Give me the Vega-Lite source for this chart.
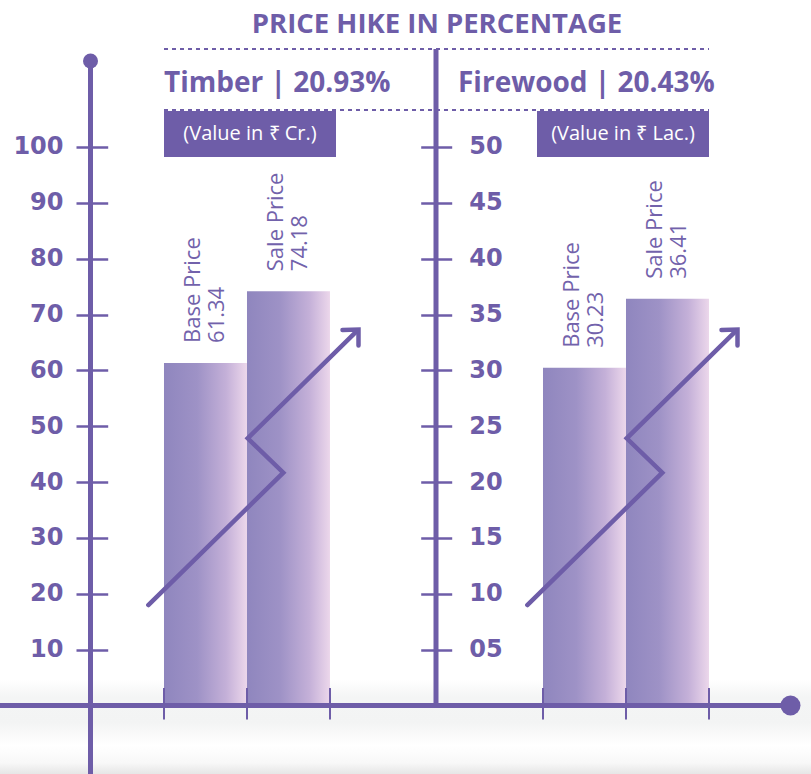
{
  "$schema": "https://vega.github.io/schema/vega-lite/v6.json",
  "width": 811,
  "height": 774,
  "autosize": {"type": "none"},
  "padding": 0,
  "background": "#ffffff",
  "config": {"view": {"stroke": null}, "axis": {"grid": false}},
  "datasets": {
    "prices": [
      {"product": "Timber", "type": "Base Price", "value": 61.34},
      {"product": "Timber", "type": "Sale Price", "value": 74.18},
      {"product": "Firewood", "type": "Base Price", "value": 30.23},
      {"product": "Firewood", "type": "Sale Price", "value": 36.41}
    ],
    "panels": [
      {"product": "Timber", "heading": "Timber | 20.93%", "unit": "(Value in ₹ Cr.)"},
      {"product": "Firewood", "heading": "Firewood | 20.43%", "unit": "(Value in ₹ Lac.)"}
    ],
    "arrows": [
      {"seg": "T-line", "order": 1, "x": 148.3, "y": 17.99},
      {"seg": "T-line", "order": 2, "x": 283.3, "y": 41.68},
      {"seg": "T-line", "order": 3, "x": 247.7, "y": 47.84},
      {"seg": "T-line", "order": 4, "x": 356, "y": 66.9},
      {"seg": "T-head", "order": 1, "x": 342.5, "y": 67.23},
      {"seg": "T-head", "order": 2, "x": 358.5, "y": 67.32},
      {"seg": "T-head", "order": 3, "x": 358.5, "y": 64.46},
      {"seg": "F-line", "order": 1, "x": 527.3, "y": 17.99},
      {"seg": "F-line", "order": 2, "x": 662.3, "y": 41.68},
      {"seg": "F-line", "order": 3, "x": 626.7, "y": 47.84},
      {"seg": "F-line", "order": 4, "x": 735, "y": 66.9},
      {"seg": "F-head", "order": 1, "x": 721.5, "y": 67.23},
      {"seg": "F-head", "order": 2, "x": 737.5, "y": 67.32},
      {"seg": "F-head", "order": 3, "x": 737.5, "y": 64.46}
    ]
  },
  "resolve": {"scale": {"x": "independent", "y": "independent", "xOffset": "independent"}},
  "layer": [
    {
      "data": {"values": [{"band": "shadow"}]},
      "mark": {
        "type": "rect",
        "fill": {
          "gradient": "linear", "x1": 0, "y1": 0, "x2": 0, "y2": 1,
          "stops": [
            {"offset": 0, "color": "#ffffff"},
            {"offset": 0.18, "color": "#f4f5f5"},
            {"offset": 0.45, "color": "#f3f4f4"},
            {"offset": 0.7, "color": "#ffffff"},
            {"offset": 0.88, "color": "#f8f8f8"},
            {"offset": 1, "color": "#e6e6e6"}
          ]
        }
      },
      "encoding": {
        "x": {"datum": 0, "type": "quantitative", "scale": {"domain": [0, 811], "nice": false, "zero": false}, "axis": null},
        "x2": {"datum": 811},
        "y": {"datum": 4.57, "type": "quantitative", "scale": {"domain": [-12.265, 126.32], "nice": false, "zero": false}, "axis": null},
        "y2": {"datum": -12.265}
      }
    },
    {
      "data": {"name": "prices"},
      "transform": [{"filter": "datum.product === 'Timber'"}],
      "mark": {
        "type": "bar",
        "fill": {
          "gradient": "linear", "x1": 0, "y1": 0, "x2": 1, "y2": 0,
          "stops": [
            {"offset": 0, "color": "#8f86be"},
            {"offset": 0.4, "color": "#9e92c6"},
            {"offset": 0.75, "color": "#c4b0d8"},
            {"offset": 1, "color": "#ecd7eb"}
          ]
        }
      },
      "encoding": {
        "x": {"field": "product", "type": "nominal", "scale": {"type": "band", "domain": ["Timber", "Firewood"], "paddingInner": 0.56201, "paddingOuter": 0.350925, "align": 0.6165, "round": false}, "axis": null},
        "xOffset": {"field": "type", "type": "nominal", "scale": {"type": "band", "domain": ["Base Price", "Sale Price"], "paddingInner": 0, "paddingOuter": 0}},
        "y": {
          "field": "value", "type": "quantitative", "stack": null,
          "scale": {"domain": [-12.265, 126.32], "nice": false, "zero": false},
          "axis": {
            "orient": "left", "offset": -107.7, "values": [10, 20, 30, 40, 50, 60, 70, 80, 90, 100],
            "domain": false, "ticks": true, "tickSize": 31.7, "tickWidth": 2.5, "tickColor": "#6e5da8",
            "labelFont": "DejaVu Sans", "labelFontWeight": "bold", "labelFontSize": 24, "labelColor": "#6e5da8",
            "labelPadding": 13, "labelBaseline": "middle", "title": null
          }
        },
        "y2": {"datum": 0}
      }
    },
    {
      "data": {"name": "prices"},
      "transform": [{"filter": "datum.product === 'Firewood'"}],
      "mark": {
        "type": "bar",
        "fill": {
          "gradient": "linear", "x1": 0, "y1": 0, "x2": 1, "y2": 0,
          "stops": [
            {"offset": 0, "color": "#8f86be"},
            {"offset": 0.4, "color": "#9e92c6"},
            {"offset": 0.75, "color": "#c4b0d8"},
            {"offset": 1, "color": "#ecd7eb"}
          ]
        }
      },
      "encoding": {
        "x": {"field": "product", "type": "nominal", "scale": {"type": "band", "domain": ["Timber", "Firewood"], "paddingInner": 0.56201, "paddingOuter": 0.350925, "align": 0.6165, "round": false}, "axis": null},
        "xOffset": {"field": "type", "type": "nominal", "scale": {"type": "band", "domain": ["Base Price", "Sale Price"], "paddingInner": 0, "paddingOuter": 0}},
        "y": {
          "field": "value", "type": "quantitative", "stack": null,
          "scale": {"domain": [-6.1325, 63.16], "nice": false, "zero": false},
          "axis": {
            "orient": "right", "offset": -390.3, "values": [5, 10, 15, 20, 25, 30, 35, 40, 45, 50],
            "labelExpr": "datum.value < 10 ? '0' + datum.value : '' + datum.value",
            "domain": false, "ticks": true, "tickSize": 31, "tickWidth": 2.5, "tickColor": "#6e5da8",
            "labelFont": "DejaVu Sans", "labelFontWeight": "bold", "labelFontSize": 24, "labelColor": "#6e5da8",
            "labelPadding": 17, "labelBaseline": "middle", "title": null
          }
        },
        "y2": {"datum": 0}
      }
    },
    {
      "data": {"name": "prices"},
      "transform": [{"filter": "datum.product === 'Timber'"}],
      "mark": {"type": "text", "angle": 270, "align": "left", "baseline": "middle", "dx": 20, "dy": -12, "font": "Open Sans", "fontSize": 22, "color": "#7262ab"},
      "encoding": {
        "x": {"field": "product", "type": "nominal", "scale": {"type": "band", "domain": ["Timber", "Firewood"], "paddingInner": 0.56201, "paddingOuter": 0.350925, "align": 0.6165, "round": false}, "axis": null},
        "xOffset": {"field": "type", "type": "nominal", "scale": {"type": "band", "domain": ["Base Price", "Sale Price"], "paddingInner": 0, "paddingOuter": 0}},
        "y": {"field": "value", "type": "quantitative", "stack": null, "scale": {"domain": [-12.265, 126.32], "nice": false, "zero": false}, "axis": null},
        "text": {"field": "type"}
      }
    },
    {
      "data": {"name": "prices"},
      "transform": [{"filter": "datum.product === 'Timber'"}],
      "mark": {"type": "text", "angle": 270, "align": "left", "baseline": "middle", "dx": 20, "dy": 12, "font": "Open Sans", "fontSize": 22, "color": "#7262ab"},
      "encoding": {
        "x": {"field": "product", "type": "nominal", "scale": {"type": "band", "domain": ["Timber", "Firewood"], "paddingInner": 0.56201, "paddingOuter": 0.350925, "align": 0.6165, "round": false}, "axis": null},
        "xOffset": {"field": "type", "type": "nominal", "scale": {"type": "band", "domain": ["Base Price", "Sale Price"], "paddingInner": 0, "paddingOuter": 0}},
        "y": {"field": "value", "type": "quantitative", "stack": null, "scale": {"domain": [-12.265, 126.32], "nice": false, "zero": false}, "axis": null},
        "text": {"field": "value", "format": ".2f"}
      }
    },
    {
      "data": {"name": "prices"},
      "transform": [{"filter": "datum.product === 'Firewood'"}],
      "mark": {"type": "text", "angle": 270, "align": "left", "baseline": "middle", "dx": 20, "dy": -12, "font": "Open Sans", "fontSize": 22, "color": "#7262ab"},
      "encoding": {
        "x": {"field": "product", "type": "nominal", "scale": {"type": "band", "domain": ["Timber", "Firewood"], "paddingInner": 0.56201, "paddingOuter": 0.350925, "align": 0.6165, "round": false}, "axis": null},
        "xOffset": {"field": "type", "type": "nominal", "scale": {"type": "band", "domain": ["Base Price", "Sale Price"], "paddingInner": 0, "paddingOuter": 0}},
        "y": {"field": "value", "type": "quantitative", "stack": null, "scale": {"domain": [-6.1325, 63.16], "nice": false, "zero": false}, "axis": null},
        "text": {"field": "type"}
      }
    },
    {
      "data": {"name": "prices"},
      "transform": [{"filter": "datum.product === 'Firewood'"}],
      "mark": {"type": "text", "angle": 270, "align": "left", "baseline": "middle", "dx": 20, "dy": 12, "font": "Open Sans", "fontSize": 22, "color": "#7262ab"},
      "encoding": {
        "x": {"field": "product", "type": "nominal", "scale": {"type": "band", "domain": ["Timber", "Firewood"], "paddingInner": 0.56201, "paddingOuter": 0.350925, "align": 0.6165, "round": false}, "axis": null},
        "xOffset": {"field": "type", "type": "nominal", "scale": {"type": "band", "domain": ["Base Price", "Sale Price"], "paddingInner": 0, "paddingOuter": 0}},
        "y": {"field": "value", "type": "quantitative", "stack": null, "scale": {"domain": [-6.1325, 63.16], "nice": false, "zero": false}, "axis": null},
        "text": {"field": "value", "format": ".2f"}
      }
    },
    {
      "layer": [
        {
          "data": {"name": "panels"},
          "mark": {"type": "rule", "strokeWidth": 2, "color": "#6e5da8"},
          "encoding": {
            "x": {"field": "product", "type": "nominal", "bandPosition": 0, "scale": {"type": "band", "domain": ["Timber", "Firewood"], "paddingInner": 0.56201, "paddingOuter": 0.350925, "align": 0.6165, "round": false}, "axis": null},
            "y": {"datum": 3.13, "type": "quantitative", "scale": {"domain": [-12.265, 126.32], "nice": false, "zero": false}, "axis": null},
            "y2": {"datum": -2.51}
          }
        },
        {
          "data": {"name": "panels"},
          "mark": {"type": "rule", "strokeWidth": 2, "color": "#6e5da8"},
          "encoding": {
            "x": {"field": "product", "type": "nominal", "bandPosition": 0.5, "scale": {"type": "band", "domain": ["Timber", "Firewood"], "paddingInner": 0.56201, "paddingOuter": 0.350925, "align": 0.6165, "round": false}, "axis": null},
            "y": {"datum": 3.13, "type": "quantitative", "scale": {"domain": [-12.265, 126.32], "nice": false, "zero": false}, "axis": null},
            "y2": {"datum": -2.51}
          }
        },
        {
          "data": {"name": "panels"},
          "mark": {"type": "rule", "strokeWidth": 2, "color": "#6e5da8"},
          "encoding": {
            "x": {"field": "product", "type": "nominal", "bandPosition": 1, "scale": {"type": "band", "domain": ["Timber", "Firewood"], "paddingInner": 0.56201, "paddingOuter": 0.350925, "align": 0.6165, "round": false}, "axis": null},
            "y": {"datum": 3.13, "type": "quantitative", "scale": {"domain": [-12.265, 126.32], "nice": false, "zero": false}, "axis": null},
            "y2": {"datum": -2.51}
          }
        }
      ]
    },
    {
      "layer": [
        {
          "data": {"values": [{"title": "PRICE HIKE IN PERCENTAGE"}]},
          "mark": {"type": "text", "align": "center", "baseline": "alphabetic", "font": "Open Sans", "fontWeight": "bold", "fontSize": 27.5, "color": "#6e5da8"},
          "encoding": {
            "x": {"datum": 437, "type": "quantitative", "scale": {"domain": [0, 811], "nice": false, "zero": false}, "axis": null},
            "y": {"datum": 120.41, "type": "quantitative", "scale": {"domain": [-12.265, 126.32], "nice": false, "zero": false}, "axis": null},
            "text": {"field": "title"}
          }
        },
        {
          "data": {"values": [{"line": "top"}]},
          "mark": {"type": "rule", "strokeWidth": 1.8, "strokeDash": [4, 4], "color": "#6e5da8"},
          "encoding": {
            "x": {"datum": 164, "type": "quantitative", "scale": {"domain": [0, 811], "nice": false, "zero": false}, "axis": null},
            "x2": {"datum": 709},
            "y": {"datum": 117.55, "type": "quantitative", "scale": {"domain": [-12.265, 126.32], "nice": false, "zero": false}, "axis": null}
          }
        },
        {
          "data": {"values": [{"line": "lower"}]},
          "mark": {"type": "rule", "strokeWidth": 1.8, "strokeDash": [4, 4], "color": "#6e5da8"},
          "encoding": {
            "x": {"datum": 164, "type": "quantitative", "scale": {"domain": [0, 811], "nice": false, "zero": false}, "axis": null},
            "x2": {"datum": 709},
            "y": {"datum": 106.62, "type": "quantitative", "scale": {"domain": [-12.265, 126.32], "nice": false, "zero": false}, "axis": null}
          }
        },
        {
          "data": {"name": "panels"},
          "transform": [{"filter": "datum.product === 'Timber'"}],
          "mark": {"type": "text", "align": "left", "baseline": "alphabetic", "font": "Open Sans", "fontWeight": "bold", "fontSize": 28, "color": "#6e5da8"},
          "encoding": {
            "x": {"datum": 164, "type": "quantitative", "scale": {"domain": [0, 811], "nice": false, "zero": false}, "axis": null},
            "y": {"datum": 109.85, "type": "quantitative", "scale": {"domain": [-12.265, 126.32], "nice": false, "zero": false}, "axis": null},
            "text": {"field": "heading"}
          }
        },
        {
          "data": {"name": "panels"},
          "transform": [{"filter": "datum.product === 'Firewood'"}],
          "mark": {"type": "text", "align": "left", "baseline": "alphabetic", "font": "Open Sans", "fontWeight": "bold", "fontSize": 28, "color": "#6e5da8"},
          "encoding": {
            "x": {"datum": 458, "type": "quantitative", "scale": {"domain": [0, 811], "nice": false, "zero": false}, "axis": null},
            "y": {"datum": 109.85, "type": "quantitative", "scale": {"domain": [-12.265, 126.32], "nice": false, "zero": false}, "axis": null},
            "text": {"field": "heading"}
          }
        },
        {
          "data": {"name": "panels"},
          "transform": [{"filter": "datum.product === 'Timber'"}],
          "mark": {"type": "rect", "color": "#6e5da8"},
          "encoding": {
            "x": {"datum": 164, "type": "quantitative", "scale": {"domain": [0, 811], "nice": false, "zero": false}, "axis": null},
            "x2": {"datum": 336},
            "y": {"datum": 106.45, "type": "quantitative", "scale": {"domain": [-12.265, 126.32], "nice": false, "zero": false}, "axis": null},
            "y2": {"datum": 98.21}
          }
        },
        {
          "data": {"name": "panels"},
          "transform": [{"filter": "datum.product === 'Firewood'"}],
          "mark": {"type": "rect", "color": "#6e5da8"},
          "encoding": {
            "x": {"datum": 537, "type": "quantitative", "scale": {"domain": [0, 811], "nice": false, "zero": false}, "axis": null},
            "x2": {"datum": 709},
            "y": {"datum": 106.45, "type": "quantitative", "scale": {"domain": [-12.265, 126.32], "nice": false, "zero": false}, "axis": null},
            "y2": {"datum": 98.21}
          }
        },
        {
          "data": {"name": "panels"},
          "transform": [{"filter": "datum.product === 'Timber'"}],
          "mark": {"type": "text", "align": "center", "baseline": "middle", "font": "Open Sans", "fontSize": 20, "color": "#ffffff"},
          "encoding": {
            "x": {"datum": 250, "type": "quantitative", "scale": {"domain": [0, 811], "nice": false, "zero": false}, "axis": null},
            "y": {"datum": 102.33, "type": "quantitative", "scale": {"domain": [-12.265, 126.32], "nice": false, "zero": false}, "axis": null},
            "text": {"field": "unit"}
          }
        },
        {
          "data": {"name": "panels"},
          "transform": [{"filter": "datum.product === 'Firewood'"}],
          "mark": {"type": "text", "align": "center", "baseline": "middle", "font": "Open Sans", "fontSize": 20, "color": "#ffffff"},
          "encoding": {
            "x": {"datum": 623, "type": "quantitative", "scale": {"domain": [0, 811], "nice": false, "zero": false}, "axis": null},
            "y": {"datum": 102.33, "type": "quantitative", "scale": {"domain": [-12.265, 126.32], "nice": false, "zero": false}, "axis": null},
            "text": {"field": "unit"}
          }
        },
        {
          "data": {"values": [{"line": "left axis"}]},
          "mark": {"type": "rule", "strokeWidth": 5, "color": "#6e5da8"},
          "encoding": {
            "x": {"datum": 90.5, "type": "quantitative", "scale": {"domain": [0, 811], "nice": false, "zero": false}, "axis": null},
            "y": {"datum": 115.22, "type": "quantitative", "scale": {"domain": [-12.265, 126.32], "nice": false, "zero": false}, "axis": null},
            "y2": {"datum": -12.265}
          }
        },
        {
          "data": {"values": [{"line": "middle axis"}]},
          "mark": {"type": "rule", "strokeWidth": 5, "color": "#6e5da8"},
          "encoding": {
            "x": {"datum": 436, "type": "quantitative", "scale": {"domain": [0, 811], "nice": false, "zero": false}, "axis": null},
            "y": {"datum": 117.55, "type": "quantitative", "scale": {"domain": [-12.265, 126.32], "nice": false, "zero": false}, "axis": null},
            "y2": {"datum": 0}
          }
        },
        {
          "data": {"values": [{"line": "baseline"}]},
          "mark": {"type": "rule", "strokeWidth": 5, "color": "#6e5da8"},
          "encoding": {
            "x": {"datum": 0, "type": "quantitative", "scale": {"domain": [0, 811], "nice": false, "zero": false}, "axis": null},
            "x2": {"datum": 790},
            "y": {"datum": 0, "type": "quantitative", "scale": {"domain": [-12.265, 126.32], "nice": false, "zero": false}, "axis": null}
          }
        },
        {
          "data": {"values": [{"dot": "top"}]},
          "mark": {"type": "point", "shape": "circle", "filled": true, "opacity": 1, "size": 225, "color": "#6e5da8"},
          "encoding": {
            "x": {"datum": 90.5, "type": "quantitative", "scale": {"domain": [0, 811], "nice": false, "zero": false}, "axis": null},
            "y": {"datum": 115.4, "type": "quantitative", "scale": {"domain": [-12.265, 126.32], "nice": false, "zero": false}, "axis": null}
          }
        },
        {
          "data": {"values": [{"dot": "right"}]},
          "mark": {"type": "point", "shape": "circle", "filled": true, "opacity": 1, "size": 400, "color": "#6e5da8"},
          "encoding": {
            "x": {"datum": 790.5, "type": "quantitative", "scale": {"domain": [0, 811], "nice": false, "zero": false}, "axis": null},
            "y": {"datum": 0, "type": "quantitative", "scale": {"domain": [-12.265, 126.32], "nice": false, "zero": false}, "axis": null}
          }
        },
        {
          "data": {"name": "arrows"},
          "mark": {"type": "line", "strokeWidth": 4.5, "strokeCap": "round", "strokeJoin": "miter", "color": "#6e5da8"},
          "encoding": {
            "x": {"field": "x", "type": "quantitative", "scale": {"domain": [0, 811], "nice": false, "zero": false}, "axis": null},
            "y": {"field": "y", "type": "quantitative", "scale": {"domain": [-12.265, 126.32], "nice": false, "zero": false}, "axis": null},
            "detail": {"field": "seg"},
            "order": {"field": "order"}
          }
        }
      ]
    }
  ]
}
